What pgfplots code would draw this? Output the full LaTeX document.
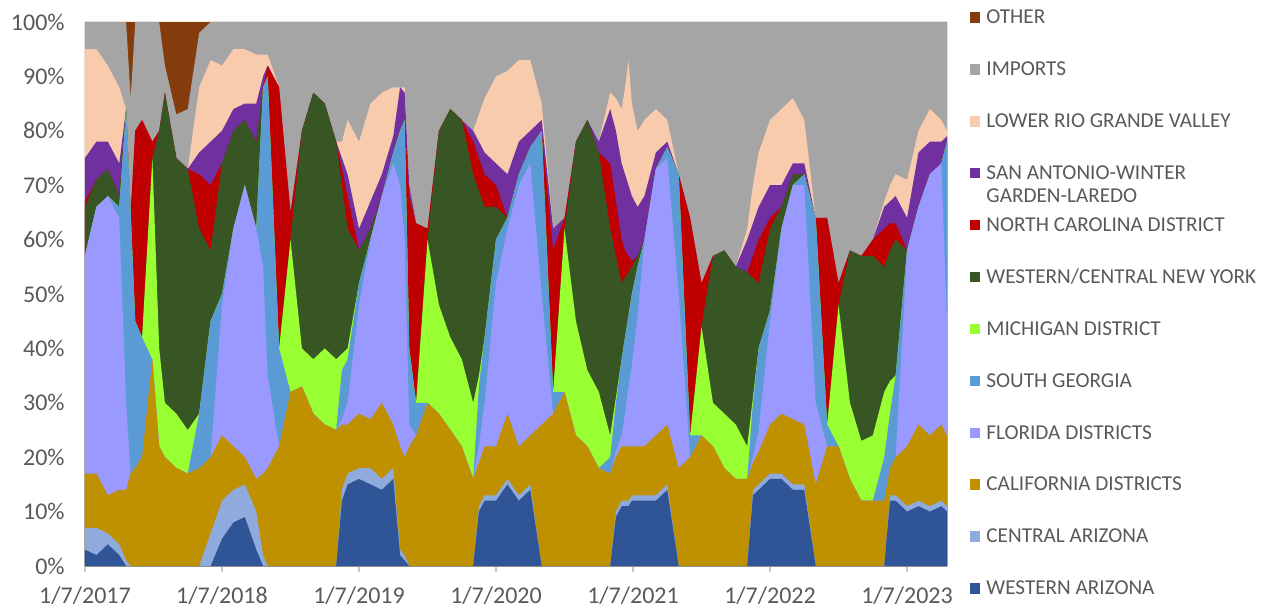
\documentclass[border=0pt]{standalone}
\usepackage{pgfplots}
\pgfplotsset{compat=1.18}
\usepackage{pgfplotstable}
\usepackage{fontspec}
\setmainfont{Carlito}
\definecolor{cOther}{HTML}{843C0C}
\definecolor{cImp}{HTML}{A5A5A5}
\definecolor{cLRGV}{HTML}{F8CBAD}
\definecolor{cSA}{HTML}{7030A0}
\definecolor{cNC}{HTML}{C00000}
\definecolor{cNY}{HTML}{375623}
\definecolor{cMI}{HTML}{99FF33}
\definecolor{cSG}{HTML}{5B9BD5}
\definecolor{cFL}{HTML}{9999FF}
\definecolor{cCAL}{HTML}{BF9000}
\definecolor{cCAZ}{HTML}{8FAADC}
\definecolor{cWA}{HTML}{2F5597}
\definecolor{txt}{HTML}{595959}
% cumulative tops (percent): WA, +CentralAZ, +California, +Florida, +SGeorgia, +Michigan, +WCNY, +NC, +SanAntonio, +LRGV, +Imports, +Other
\pgfplotstableread{
m c1 c2 c3 c4 c5 c6 c7 c8 c9 c10 c11 c12
0 3 7 17 57 57 57 66 67 75 95 100 100
1 2 7 17 66 66 66 71 71 78 95 100 100
2 4 6 13 68 68 68 73 73 78 92 100 100
3 2 4 14 64 66 66 68 68 74 88 100 100
3.6 0 1 14 30 84 84 84 84 84 84 100 100
4 0 0 17 17 65 65 65 65 65 65 86 100
4.4 0 0 18 18 45 45 45 80 80 80 100 100
5 0 0 20 20 42 42 42 82 82 82 100 100
5.9 0 0 38 38 38 75 75 78 78 78 100 100
6.5 0 0 22 22 22 40 80 80 80 80 100 100
7 0 0 20 20 20 30 87 87 87 87 92 100
8 0 0 18 18 18 28 75 75 75 75 83 100
9 0 0 17 17 17 25 73 73 73 73 84 100
10 0 0 18 18 28 28 62 72 76 88 98 100
11 0 6 20 20 45 45 58 70 78 93 100 100
12 5 12 24 48 50 50 74 74 80 92 100 100
13 8 14 22 62 62 62 80 80 84 95 100 100
14 9 15 20 70 70 70 82 82 85 95 100 100
15 3 10 16 62 62 62 78 78 85 94 100 100
15.6 0 2 17 55 88 88 88 88 90 94 100 100
16 0 0 18 35 90 90 90 92 92 94 100 100
17 0 0 22 22 40 40 40 88 88 88 100 100
18 0 0 32 32 32 60 60 65 65 65 100 100
19 0 0 33 33 33 40 80 80 80 80 100 100
20 0 0 28 28 28 38 87 87 87 87 100 100
21 0 0 26 26 26 40 85 85 85 85 100 100
22 0 0 25 25 25 38 78 78 78 78 100 100
22.5 12 14 26 27 36 39 70 73 75 78 100 100
23 15 17 26 30 38 40 62 68 72 82 100 100
24 16 18 28 48 52 52 58 58 62 78 100 100
25 15 18 27 60 60 60 62 62 67 85 100 100
26 14 16 30 68 68 68 68 68 72 87 100 100
27 16 18 26 74 76 76 76 76 79 88 100 100
27.6 2 3 22 70 80 80 80 80 88 88 100 100
28 1 2 20 60 82 82 82 82 87 88 100 100
28.4 0 0 22 26 40 40 40 68 70 70 100 100
29 0 0 24 24 30 30 30 63 63 63 100 100
30 0 0 30 30 30 60 60 62 62 62 100 100
31 0 0 28 28 28 48 80 80 80 80 100 100
32 0 0 25 25 25 42 84 84 84 84 100 100
33 0 0 22 22 22 38 82 82 82 82 100 100
34 0 0 16 16 16 30 72 78 80 80 100 100
34.5 10 11 19 22 33 35 69 75 78 83 100 100
35 12 13 22 30 42 42 66 72 76 86 100 100
36 12 13 22 52 60 60 66 70 74 90 100 100
37 15 16 28 62 64 64 64 64 72 91 100 100
38 12 13 22 70 72 72 72 72 78 93 100 100
39 14 15 24 74 77 77 77 77 80 93 100 100
40 0 0 26 50 80 80 80 80 82 85 100 100
41 0 0 28 28 32 32 32 58 62 62 100 100
42 0 0 32 32 32 62 62 64 64 64 100 100
43 0 0 24 24 24 45 78 78 78 78 100 100
44 0 0 22 22 22 36 82 82 82 82 100 100
45 0 0 18 18 18 32 76 76 78 78 100 100
46 0 0 17 17 20 24 62 74 84 87 100 100
46.5 9 10 20 21 30 31 57 67 80 86 100 100
47 11 12 22 24 38 38 52 60 74 84 100 100
47.3 11 12 22 28 42 42 53 58 72 88 100 100
47.6 11 12 22 33 46 46 54 57 70 93 100 100
47.9 12 13 22 37 50 50 55 56 68 85 100 100
48.4 12 13 22 46 55 55 57 57 66 80 100 100
49 12 13 22 60 60 60 60 60 68 82 100 100
50 12 13 24 73 73 73 73 73 76 84 100 100
51 14 15 26 75 77 77 77 77 78 82 100 100
52 0 0 18 50 72 72 72 72 72 72 100 100
53 0 0 20 20 24 24 24 64 64 64 100 100
54 0 0 24 24 24 44 44 52 52 52 100 100
55 0 0 22 22 22 30 57 57 57 57 100 100
56 0 0 18 18 18 28 58 58 58 58 100 100
57 0 0 16 16 16 26 55 55 55 55 100 100
58 0 0 16 16 16 22 54 54 60 62 100 100
58.5 13 14 19 20 30 31 53 57 63 70 100 100
59 14 15 21 25 40 40 52 60 66 76 100 100
60 16 17 26 45 47 47 62 64 70 82 100 100
61 16 17 28 62 62 62 66 66 70 84 100 100
62 14 15 27 70 70 70 72 72 74 86 100 100
63 14 15 26 70 72 72 72 72 74 82 100 100
64 0 0 15 30 64 64 64 64 64 64 100 100
65 0 0 22 22 26 26 26 64 64 64 100 100
66 0 0 22 22 22 48 48 52 52 52 100 100
67 0 0 16 16 16 30 58 58 58 58 100 100
68 0 0 12 12 12 23 57 57 57 57 100 100
69 0 0 12 12 12 24 57 60 60 60 100 100
70 0 0 12 12 20 32 55 62 66 67 100 100
70.5 12 13 18 18 28 34 58 63 67 70 100 100
71 12 13 20 20 35 35 60 63 68 72 100 100
72 10 11 22 58 58 58 58 58 64 71 100 100
73 11 12 26 66 66 66 66 66 76 80 100 100
74 10 11 24 72 72 72 72 72 78 84 100 100
75 11 12 26 74 74 74 74 74 78 82 100 100
75.5 10 11 24 45 78 78 78 78 79 80 100 100
}\data

\begin{document}
\begin{tikzpicture}[x=1pt,y=1pt]
\useasboundingbox (-42.5,-22) rectangle (588,283);
\begin{axis}[
  at={(0,0)}, anchor=south west,
  scale only axis, width=431pt, height=272pt,
  xmin=0, xmax=75.5, ymin=0, ymax=100,
  axis x line*=bottom, axis y line*=left,
  x axis line style={-, draw=black!22, line width=0.8pt},
  y axis line style={draw=none},
  xtick={0,12,24,36,48,60,72},
  xticklabels={1/7/2017,1/7/2018,1/7/2019,1/7/2020,1/7/2021,1/7/2022,1/7/2023},
  ytick={0,10,...,100},
  yticklabel={\pgfmathprintnumber{\tick}\%},
  /pgf/number format/assume math mode=true,
  xtick style={draw=black!22, line width=0.8pt},
  ytick style={draw=none},
  tick align=outside, major tick length=3pt,
  tick label style={font=\fontsize{12}{14}\selectfont, text=txt},
  xticklabel style={anchor=north, inner sep=0pt, yshift=-7.3pt},
  yticklabel style={anchor=east, inner sep=0pt, xshift=-7pt},
  legend cell align=left,
  legend image code/.code={\fill[#1] (0pt,-2.6pt) rectangle (5.2pt,2.6pt);},
  legend style={at={(1.0267,0.4835)}, anchor=west, draw=none, fill=none,
    inner sep=0pt, outer sep=0pt, row sep=19.65pt,
    font=\fontsize{10.6}{11.5}\selectfont, text=txt,
    nodes={inner sep=0pt, text height=6.3pt, text depth=0pt},
    /tikz/every odd column/.append style={column sep=3pt}},
]
\addplot[fill=cOther, draw=none] table[x=m, y=c12]{\data} \closedcycle;
\addlegendentry{OTHER}
\addplot[fill=cImp, draw=none] table[x=m, y=c11]{\data} \closedcycle;
\addlegendentry{IMPORTS}
\addplot[fill=cLRGV, draw=none] table[x=m, y=c10]{\data} \closedcycle;
\addlegendentry{LOWER RIO GRANDE VALLEY}
\addplot[fill=cSA, draw=none] table[x=m, y=c9]{\data} \closedcycle;
\addlegendentry{\begin{tabular}[t]{@{}l@{}}SAN ANTONIO-WINTER\\GARDEN-LAREDO\end{tabular}}
\addplot[fill=cNC, draw=none] table[x=m, y=c8]{\data} \closedcycle;
\addlegendentry{NORTH CAROLINA DISTRICT}
\addplot[fill=cNY, draw=none] table[x=m, y=c7]{\data} \closedcycle;
\addlegendentry{WESTERN/CENTRAL NEW YORK}
\addplot[fill=cMI, draw=none] table[x=m, y=c6]{\data} \closedcycle;
\addlegendentry{MICHIGAN DISTRICT}
\addplot[fill=cSG, draw=none] table[x=m, y=c5]{\data} \closedcycle;
\addlegendentry{SOUTH GEORGIA}
\addplot[fill=cFL, draw=none] table[x=m, y=c4]{\data} \closedcycle;
\addlegendentry{FLORIDA DISTRICTS}
\addplot[fill=cCAL, draw=none] table[x=m, y=c3]{\data} \closedcycle;
\addlegendentry{CALIFORNIA DISTRICTS}
\addplot[fill=cCAZ, draw=none] table[x=m, y=c2]{\data} \closedcycle;
\addlegendentry{CENTRAL ARIZONA}
\addplot[fill=cWA, draw=none] table[x=m, y=c1]{\data} \closedcycle;
\addlegendentry{WESTERN ARIZONA}
\end{axis}
\end{tikzpicture}
\end{document}
